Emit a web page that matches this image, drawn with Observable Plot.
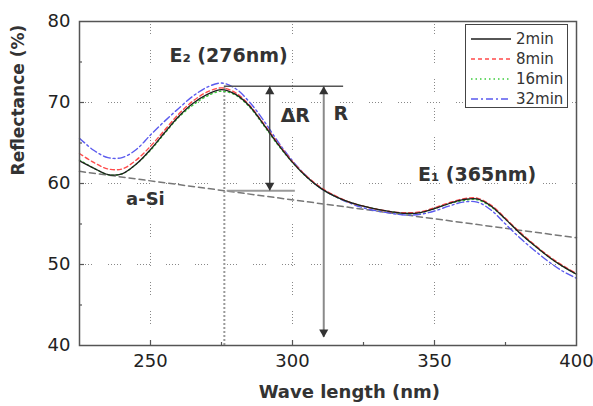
<!DOCTYPE html>
<html><head><meta charset="utf-8">
<script src="https://cdn.jsdelivr.net/npm/d3@7"></script>
<script src="https://cdn.jsdelivr.net/npm/@observablehq/plot@0.6"></script>
<style>
body{margin:0;background:#fff;}
#wrap{position:relative;width:593px;height:406px;font-family:"DejaVu Sans",sans-serif;}
#legend{position:absolute;left:465px;top:24px;width:101px;height:82px;border:1.5px solid #444;background:#fff;}
</style></head><body><div id="wrap"><div id="legend"></div></div>
<script>
// ---- data ----
const wavelengths = [225,230,235,240,245,250,255,260,265,270,275,280,285,290,295,300,305,310,315,320,325,330,335,340,345,350,355,360,365,370,375,380,385,390,395,400];
const r2min  = [62.8,61.9,61.1,61.2,62.4,64.2,66.3,68.3,69.9,71.0,71.6,71.0,69.5,67.2,64.8,62.6,60.8,59.4,58.4,57.7,57.2,56.8,56.5,56.3,56.4,56.9,57.5,58.0,58.1,57.2,55.6,53.9,52.4,51.0,49.8,48.8];
const r8min  = [63.7,62.6,61.8,61.8,62.9,64.6,66.6,68.6,70.2,71.3,71.8,71.2,69.6,67.3,64.9,62.7,60.9,59.5,58.5,57.7,57.2,56.8,56.5,56.4,56.5,57.0,57.6,58.1,58.2,57.3,55.7,54.0,52.5,51.1,49.9,48.9];
const r16min = [62.9,61.9,61.1,61.2,62.4,64.1,66.2,68.2,69.7,70.8,71.4,70.9,69.4,67.1,64.7,62.6,60.8,59.4,58.4,57.7,57.2,56.8,56.5,56.3,56.4,56.9,57.5,57.9,58.0,57.1,55.6,53.9,52.4,51.0,49.8,48.8];
const r32min = [65.6,64.1,63.2,63.2,64.2,66.0,67.7,69.3,70.8,71.9,72.4,71.7,70.0,67.7,65.1,62.8,60.9,59.4,58.4,57.6,57.0,56.6,56.3,56.1,56.2,56.6,57.2,57.7,57.7,56.7,55.0,53.3,51.8,50.4,49.2,48.3];
const seriesNames = ["2min","8min","16min","32min"];
const seriesValues = [r2min, r8min, r16min, r32min];
const seriesColors = ["#1e1e1e","#ff4a4a","#3ccc3c","#5a5aee"];
const seriesDash = ["none","4,3","1.5,3","7,3,2,3"];
const drawOrder = [3,2,1,0];

const xTicks = [250,300,350,400];
const xMajorTicks = [250,300,350];
const xMinorTicks = [275,325,375];
const yTicks = [40,50,60,70,80];
const yMajorTicks = [50,60,70];
const yMinorTicks = [45,55,65,75];

// a-Si baseline
const baseWl = [225,400];
const baseR = [61.5,53.3];

// annotation values
const peakWl = 276, peakR = 72.0, lowR = 59.1;
const topLineEndWl = 318, lowLineStartWl = 277, lowLineEndWl = 301;
const dRWl = 292, rWl = 311, rBottom = 41.0;

const labels = [
  {text:"E\u2082 (276nm)", wl:277.5, r:75.8, size:19},
  {text:"\u0394R", wl:301, r:68.4, size:19},
  {text:"R", wl:317, r:68.6, size:19},
  {text:"a-Si", wl:248.2, r:58.0, size:18},
  {text:"E\u2081 (365nm)", wl:365, r:61.0, size:19}
];

// ---- build ----
const W = 593, H = 406, mL = 79, mR = 17, mT = 21, mB = 61;
const fw = W - mL - mR, fh = H - mT - mB;

const curveMarks = drawOrder.map(i => Plot.line(
  wavelengths.map((w, j) => ({wl: w, r: seriesValues[i][j]})),
  {x: "wl", y: "r", stroke: seriesColors[i], strokeWidth: i === 0 ? 1.3 : 1.4,
   strokeDasharray: seriesDash[i], curve: "catmull-rom"}
));

const gridDash = "1,2,1,2,1,2,1,2,1,16";
const font = "DejaVu Sans";

const chart = Plot.plot({
  width: W, height: H,
  marginLeft: mL, marginRight: mR, marginTop: mT, marginBottom: mB,
  style: {fontFamily: font, background: "#fff", color: "#222"},
  x: {domain: [225, 400]},
  y: {domain: [40, 80]},
  marks: [
    Plot.tickX(xMajorTicks, {x: d => d, stroke: "#888", strokeWidth: 1, strokeDasharray: gridDash}),
    Plot.tickY(yMajorTicks, {y: d => d, stroke: "#888", strokeWidth: 1, strokeDasharray: gridDash}),
    Plot.axisX(xTicks, {tickSize: 0, tickPadding: 9, fontSize: 18, label: null, fill: "#222"}),
    Plot.axisY(yTicks, {tickSize: 0, tickPadding: 9, fontSize: 18, label: null, fill: "#222"}),
    Plot.tickX(xMajorTicks, {x: d => d, insetTop: fh - 5, stroke: "#555", strokeWidth: 1.2}),
    Plot.tickX(xMinorTicks, {x: d => d, insetTop: fh - 3, stroke: "#555", strokeWidth: 1.2}),
    Plot.tickY(yMajorTicks, {y: d => d, insetRight: fw - 5, stroke: "#555", strokeWidth: 1.2}),
    Plot.tickY(yMinorTicks, {y: d => d, insetRight: fw - 3, stroke: "#555", strokeWidth: 1.2}),
    // a-Si baseline
    Plot.line(baseWl.map((w, i) => ({wl: w, r: baseR[i]})), {x: "wl", y: "r", stroke: "#777", strokeWidth: 1.5, strokeDasharray: "6,4"}),
    // vertical dotted at peak
    Plot.ruleX([peakWl], {y1: 40, y2: peakR, stroke: "#999", strokeWidth: 2, strokeDasharray: "2,2"}),
    // annotation lines
    Plot.ruleY([lowR], {x1: lowLineStartWl, x2: lowLineEndWl, stroke: "#999", strokeWidth: 2}),
    Plot.ruleX([rWl], {y1: rBottom, y2: peakR, stroke: "#8a8a8a", strokeWidth: 2}),
    ...curveMarks,
    Plot.ruleY([peakR], {x1: peakWl, x2: topLineEndWl, stroke: "#555", strokeWidth: 1.5}),
    Plot.ruleX([dRWl], {y1: lowR, y2: peakR, stroke: "#333", strokeWidth: 1.2}),
    // arrowheads
    Plot.dot([{wl: dRWl, r: peakR}, {wl: rWl, r: peakR}], {x: "wl", y: "r", symbol: "triangle", r: 3.4, fill: "#333", stroke: null, dy: 5.3}),
    Plot.dot([{wl: dRWl, r: lowR}, {wl: rWl, r: rBottom}], {x: "wl", y: "r", symbol: "triangle", r: 3.4, fill: "#333", stroke: null, rotate: 180, dy: -5.3}),
    // text labels
    ...labels.map(l => Plot.text([l], {x: "wl", y: "r", text: "text", fontSize: l.size, fontWeight: "bold", fill: "#333", fontFamily: font})),
    // axis titles
    Plot.text(["Wave length (nm)"], {x: 320, frameAnchor: "bottom", dy: 52, fontSize: 18, fontWeight: "bold", fill: "#333", fontFamily: font}),
    Plot.text(["Reflectance (%)"], {y: 61, frameAnchor: "left", dx: -61, rotate: -90, fontSize: 17, fontWeight: "bold", fill: "#333", fontFamily: font}),
    Plot.frame({stroke: "#555", strokeWidth: 1.5})
  ]
});
const wrap = document.getElementById("wrap");
wrap.insertBefore(chart, wrap.firstChild);

// ---- legend ----
const lg = d3.select("#legend").append("svg").attr("width", 101).attr("height", 82)
  .style("display", "block");
seriesNames.forEach((name, i) => {
  const cy = 14 + i * 20;
  lg.append("line").attr("x1", 5).attr("x2", 45).attr("y1", cy).attr("y2", cy)
    .attr("stroke", seriesColors[i]).attr("stroke-width", 1.4)
    .attr("stroke-dasharray", seriesDash[i]);
  lg.append("text").attr("x", 50).attr("y", cy).attr("dy", "0.36em")
    .attr("font-family", font).attr("font-size", 15).attr("fill", "#333").text(name);
});
</script>
</body></html>
